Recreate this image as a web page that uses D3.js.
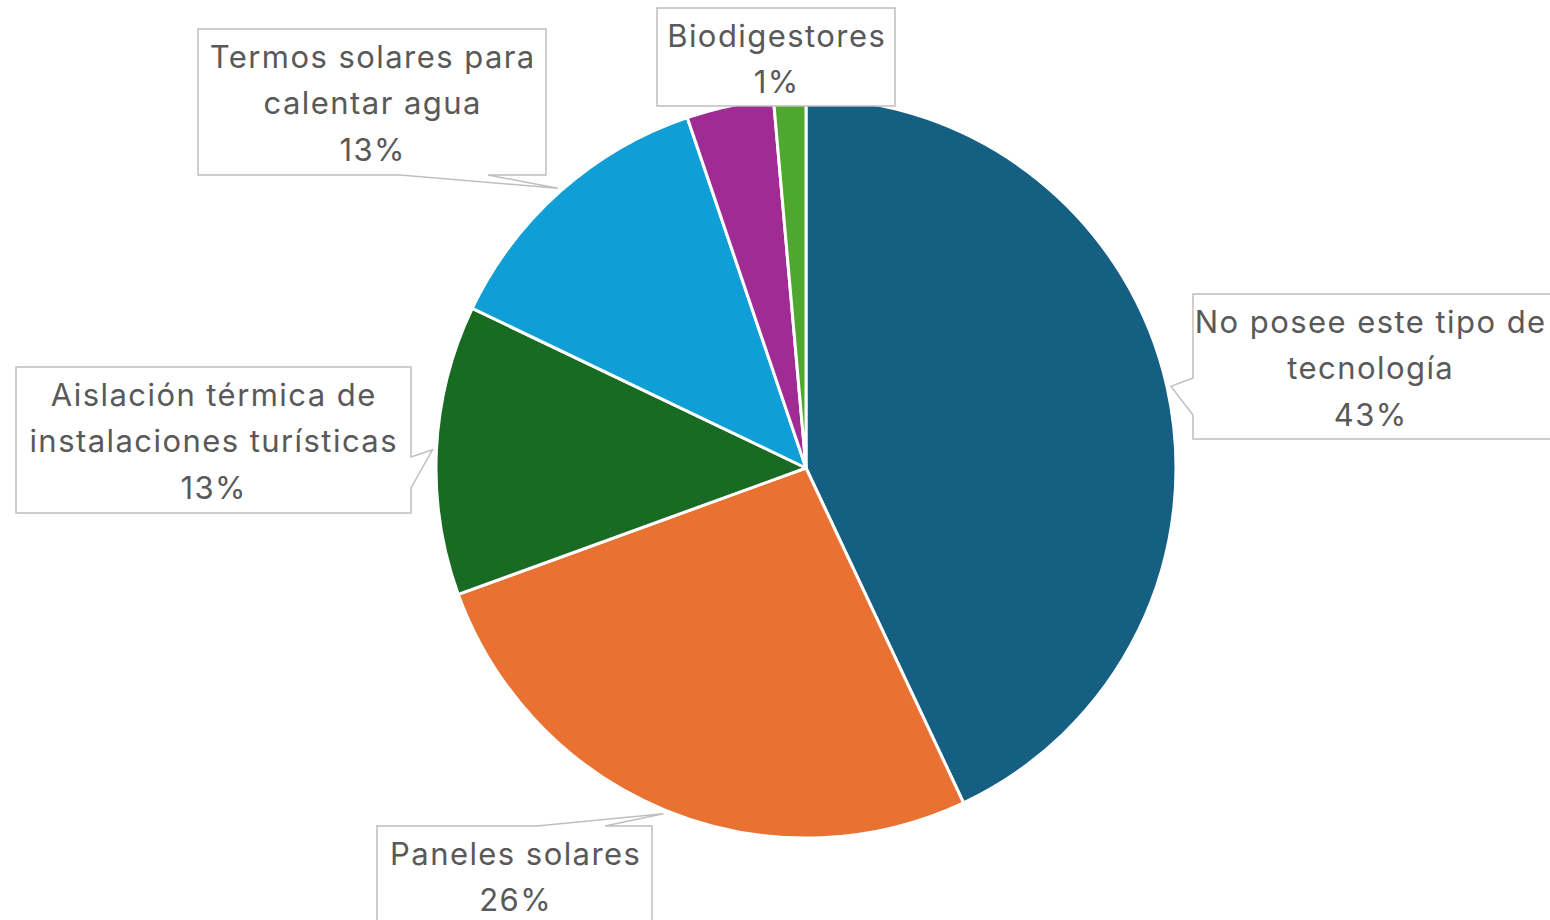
<!DOCTYPE html>
<html>
<head>
<meta charset="utf-8">
<script src="https://cdn.jsdelivr.net/npm/d3@7"></script>
<style>
  html, body { margin: 0; padding: 0; background: #ffffff; }
  svg { display: block; }
</style>
</head>
<body>
<svg id="chart" width="1550" height="920"></svg>
<script>
// ---- data ----
const categories = [
  "No posee este tipo de tecnología",
  "Paneles solares",
  "Aislación térmica de instalaciones turísticas",
  "Termos solares para calentar agua",
  "Otros",
  "Biodigestores"
];
const values = [43.0, 26.45, 12.65, 12.7, 3.8, 1.4];
const colors = ["#156082", "#E97132", "#196B24", "#0F9ED5", "#A02B93", "#4EA72E"];
const labelLines = [
  ["No posee este tipo de", "tecnología"],
  ["Paneles solares"],
  ["Aislación térmica de", "instalaciones turísticas"],
  ["Termos solares para", "calentar agua"],
  null,
  ["Biodigestores"]
];

// ---- layout ----
const W = 1550, H = 920;
const cx = 806, cy = 468, R = 370;
const FONT = "Inter, 'Noto Sans', sans-serif";
const FS = 31;
const LH = 46.5;
// label boxes: x, y, w, h, pointer side and base positions along that side
const boxes = [
  {x: 1193, y: 294, w: 380, h: 145, side: "left",   b: [378, 415], tx: 1370},
  {x: 377,  y: 826, w: 275, h: 120, side: "top",    b: [537, 605], tx: 515},
  {x: 16,   y: 367, w: 395, h: 146, side: "right",  b: [457, 488], tx: 213},
  {x: 198,  y: 29,  w: 348, h: 146, side: "bottom", b: [400, 488], tx: 372},
  null,
  {x: 657,  y: 8,   w: 238, h: 98,  side: null, tx: 776}
];

const svg = d3.select("#chart");
const total = d3.sum(values);
const data = categories.map((c, i) => ({cat: c, value: values[i], color: colors[i], lines: labelLines[i], box: boxes[i]}));

// letter spacing calibrated so "Termos solares para" spans ~326px
const probe = svg.append("text").attr("font-family", FONT).attr("font-size", FS).text("Termos solares para");
const pw = probe.node().getComputedTextLength();
probe.remove();
const LS = Math.max(0, (326 - pw) / 19);

const pie = d3.pie().value(d => d.value).sort(null);
const arcs = pie(data);
const arc = d3.arc().innerRadius(0).outerRadius(R);

const g = svg.append("g").attr("transform", `translate(${cx},${cy})`);
g.selectAll("path.slice")
  .data(arcs)
  .join("path")
  .attr("class", "slice")
  .attr("d", arc)
  .attr("fill", d => d.data.color)
  .attr("stroke", "#ffffff")
  .attr("stroke-width", 3)
  .attr("stroke-linejoin", "round");

// callout labels
const fmt = v => Math.round(v / total * 100) + "%";
const lg = svg.append("g");
arcs.forEach(a => {
  const d = a.data;
  if (!d.lines) return;
  const bx = d.box;
  const mid = (a.startAngle + a.endAngle) / 2;
  const tip = [cx + (R + 4) * Math.sin(mid), cy - (R + 4) * Math.cos(mid)];
  const x0 = bx.x, y0 = bx.y, x1 = bx.x + bx.w, y1 = bx.y + bx.h;
  let pts;
  if (bx.side === "left") {
    pts = [[x0, y0], [x1, y0], [x1, y1], [x0, y1], [x0, bx.b[1]], tip, [x0, bx.b[0]]];
  } else if (bx.side === "right") {
    pts = [[x0, y0], [x1, y0], [x1, bx.b[0]], tip, [x1, bx.b[1]], [x1, y1], [x0, y1]];
  } else if (bx.side === "top") {
    pts = [[x0, y0], [bx.b[0], y0], tip, [bx.b[1], y0], [x1, y0], [x1, y1], [x0, y1]];
  } else if (bx.side === "bottom") {
    pts = [[x0, y0], [x1, y0], [x1, y1], [bx.b[1], y1], tip, [bx.b[0], y1], [x0, y1]];
  } else {
    pts = [[x0, y0], [x1, y0], [x1, y1], [x0, y1]];
  }
  lg.append("path")
    .attr("d", d3.line()(pts) + "Z")
    .attr("fill", "#ffffff")
    .attr("stroke", "#BFBFBF")
    .attr("stroke-width", 1.5);
  const lines = d.lines.concat([fmt(d.value)]);
  const t = lg.append("text")
    .attr("font-family", FONT)
    .attr("font-size", FS)
    .attr("letter-spacing", LS.toFixed(2) + "px")
    .attr("fill", "#595959")
    .attr("text-anchor", "middle");
  lines.forEach((ln, i) => {
    t.append("tspan")
      .attr("x", bx.tx + LS / 2)
      .attr("y", y0 + 28 + i * LH)
      .attr("dy", "0.35em")
      .text(ln);
  });
});
</script>
</body>
</html>
